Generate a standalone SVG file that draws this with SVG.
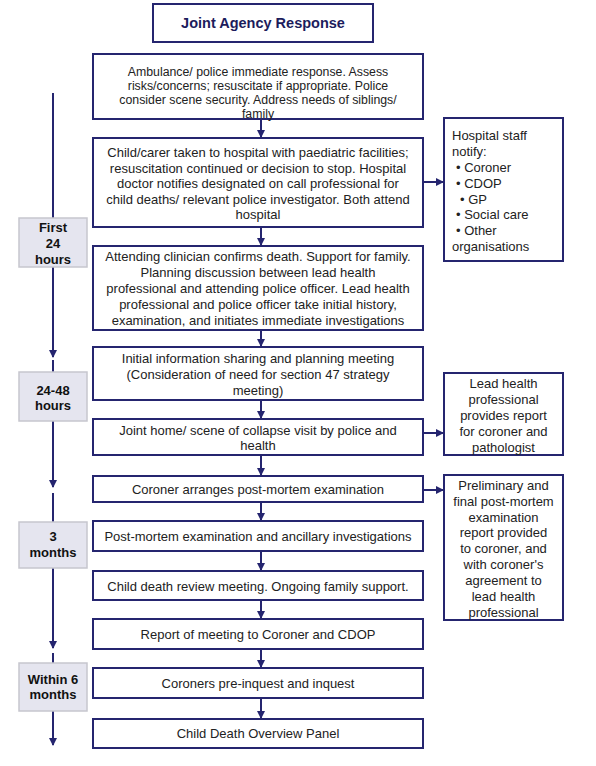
<svg xmlns="http://www.w3.org/2000/svg" width="596" height="766" viewBox="0 0 596 766">
<defs>
<style>
.box{fill:#fff;stroke:#25256f;stroke-width:2}
.lbl{fill:#e5e5ef;stroke:#c6c6ce;stroke-width:1.5}
.t{font-family:"Liberation Sans",Arial,sans-serif;font-size:13px;fill:#222;text-anchor:middle}
.s{font-size:12.3px}
.l{text-anchor:start}
.b{font-weight:bold;fill:#111}
.title{font-size:14.5px;font-weight:bold;fill:#1c1c5c}
.c{stroke:#25256f;stroke-width:2;fill:none}
</style>
<marker id="ah" markerUnits="userSpaceOnUse" markerWidth="8" markerHeight="8" refX="7" refY="4" orient="auto">
<path d="M0,0 L8,4 L0,8 z" fill="#25256f"/>
</marker>
</defs>
<rect width="596" height="766" fill="#fff"/>

<g id="connectors">
<line class="c" x1="53" y1="93" x2="53" y2="357" marker-end="url(#ah)"/>
<line class="c" x1="53" y1="360" x2="53" y2="487" marker-end="url(#ah)"/>
<line class="c" x1="53" y1="493" x2="53" y2="648" marker-end="url(#ah)"/>
<line class="c" x1="53" y1="653" x2="53" y2="745" marker-end="url(#ah)"/>
<line class="c" x1="261" y1="119" x2="261" y2="137" marker-end="url(#ah)"/>
<line class="c" x1="261" y1="227" x2="261" y2="245" marker-end="url(#ah)"/>
<line class="c" x1="261" y1="330" x2="261" y2="346" marker-end="url(#ah)"/>
<line class="c" x1="261" y1="400" x2="261" y2="418" marker-end="url(#ah)"/>
<line class="c" x1="261" y1="455" x2="261" y2="475" marker-end="url(#ah)"/>
<line class="c" x1="261" y1="502" x2="261" y2="520" marker-end="url(#ah)"/>
<line class="c" x1="261" y1="551" x2="261" y2="570" marker-end="url(#ah)"/>
<line class="c" x1="261" y1="600" x2="261" y2="618" marker-end="url(#ah)"/>
<line class="c" x1="261" y1="649" x2="261" y2="667" marker-end="url(#ah)"/>
<line class="c" x1="261" y1="698" x2="261" y2="718" marker-end="url(#ah)"/>
<line class="c" x1="423" y1="182" x2="443" y2="182" marker-end="url(#ah)"/>
<line class="c" x1="423" y1="433" x2="443" y2="433" marker-end="url(#ah)"/>
<line class="c" x1="423" y1="490" x2="443" y2="490" marker-end="url(#ah)"/>
</g>

<g id="title">
<rect class="box" x="153" y="4" width="220" height="38"/>
<text class="t title" x="263" y="28">Joint Agency Response</text>
</g>

<g id="n1">
<rect class="box" x="93" y="54" width="330" height="65"/>
<text class="t s" x="258" y="75.5">Ambulance/ police immediate response. Assess</text>
<text class="t s" x="258" y="89.5">risks/concerns; resuscitate if appropriate. Police</text>
<text class="t s" x="258" y="103.5">consider scene security. Address needs of siblings/</text>
<text class="t s" x="258" y="117.5">family</text>
</g>

<g id="n2">
<rect class="box" x="93" y="138" width="330" height="89"/>
<text class="t" x="258" y="156.5">Child/carer taken to hospital with paediatric facilities;</text>
<text class="t" x="258" y="172.5">resuscitation continued or decision to stop. Hospital</text>
<text class="t" x="258" y="187.5">doctor notifies designated on call professional for</text>
<text class="t" x="258" y="203.5">child deaths/ relevant police investigator. Both attend</text>
<text class="t" x="258" y="218.5">hospital</text>
</g>

<g id="notify">
<rect class="box" x="444" y="118" width="119" height="143"/>
<text class="t l" x="452" y="139.5">Hospital staff</text>
<text class="t l" x="452" y="155.5">notify:</text>
<text class="t l" x="456" y="171.5">• Coroner</text>
<text class="t l" x="456" y="187.5">• CDOP</text>
<text class="t l" x="460" y="203.5">• GP</text>
<text class="t l" x="456" y="218.5">• Social care</text>
<text class="t l" x="456" y="234.5">• Other</text>
<text class="t l" x="452" y="250.5">organisations</text>
</g>

<g id="n3">
<rect class="box" x="93" y="246" width="330" height="84"/>
<text class="t" x="258" y="261">Attending clinician confirms death. Support for family.</text>
<text class="t" x="258" y="277">Planning discussion between lead health</text>
<text class="t" x="258" y="292.5">professional and attending police officer. Lead health</text>
<text class="t" x="258" y="308.5">professional and police officer take initial history,</text>
<text class="t" x="258" y="324.5">examination, and initiates immediate investigations</text>
</g>

<g id="n4">
<rect class="box" x="93" y="347" width="330" height="53"/>
<text class="t" x="258" y="362.5">Initial information sharing and planning meeting</text>
<text class="t" x="258" y="378.5">(Consideration of need for section 47 strategy</text>
<text class="t" x="258" y="394.5">meeting)</text>
</g>

<g id="n5">
<rect class="box" x="93" y="419" width="330" height="36"/>
<text class="t" x="258" y="434.5">Joint home/ scene of collapse visit by police and</text>
<text class="t" x="258" y="449.5">health</text>
</g>

<g id="report">
<rect class="box" x="444" y="373" width="119" height="82"/>
<text class="t" x="503.5" y="387.5">Lead health</text>
<text class="t" x="503.5" y="403.5">professional</text>
<text class="t" x="503.5" y="419.5">provides report</text>
<text class="t" x="503.5" y="435.5">for coroner and</text>
<text class="t" x="503.5" y="451.5">pathologist</text>
</g>

<g id="n6">
<rect class="box" x="93" y="476" width="330" height="26"/>
<text class="t" x="258" y="493.5">Coroner arranges post-mortem examination</text>
</g>

<g id="prelim">
<rect class="box" x="444" y="475" width="119" height="145"/>
<text class="t" x="503.5" y="489.5">Preliminary and</text>
<text class="t" x="503.5" y="505.5">final post-mortem</text>
<text class="t" x="503.5" y="521.5">examination</text>
<text class="t" x="503.5" y="536.5">report provided</text>
<text class="t" x="503.5" y="552.5">to coroner, and</text>
<text class="t" x="503.5" y="568.5">with coroner's</text>
<text class="t" x="503.5" y="584.5">agreement to</text>
<text class="t" x="503.5" y="600.5">lead health</text>
<text class="t" x="503.5" y="616.5">professional</text>
</g>

<g id="n7">
<rect class="box" x="93" y="521" width="330" height="30"/>
<text class="t" x="258" y="540.5">Post-mortem examination and ancillary investigations</text>
</g>

<g id="n8">
<rect class="box" x="93" y="571" width="330" height="29"/>
<text class="t" x="258" y="591">Child death review meeting. Ongoing family support.</text>
</g>

<g id="n9">
<rect class="box" x="93" y="619" width="330" height="30"/>
<text class="t" x="258" y="639">Report of meeting to Coroner and CDOP</text>
</g>

<g id="n10">
<rect class="box" x="93" y="668" width="330" height="30"/>
<text class="t" x="258" y="687.5">Coroners pre-inquest and inquest</text>
</g>

<g id="n11">
<rect class="box" x="93" y="719" width="330" height="29"/>
<text class="t" x="258" y="737.5">Child Death Overview Panel</text>
</g>

<g id="t1">
<rect class="lbl" x="19" y="218" width="68" height="49"/>
<text class="t b" x="53" y="231.5">First</text>
<text class="t b" x="53" y="247.5">24</text>
<text class="t b" x="53" y="263.5">hours</text>
</g>

<g id="t2">
<rect class="lbl" x="19" y="372" width="68" height="49"/>
<text class="t b" x="53" y="394.5">24-48</text>
<text class="t b" x="53" y="409.5">hours</text>
</g>

<g id="t3">
<rect class="lbl" x="19" y="522" width="68" height="46"/>
<text class="t b" x="53" y="540.5">3</text>
<text class="t b" x="53" y="556.5">months</text>
</g>

<g id="t4">
<rect class="lbl" x="19" y="663" width="68" height="48"/>
<text class="t b" x="53" y="683.5">Within 6</text>
<text class="t b" x="53" y="698.5">months</text>
</g>
</svg>
